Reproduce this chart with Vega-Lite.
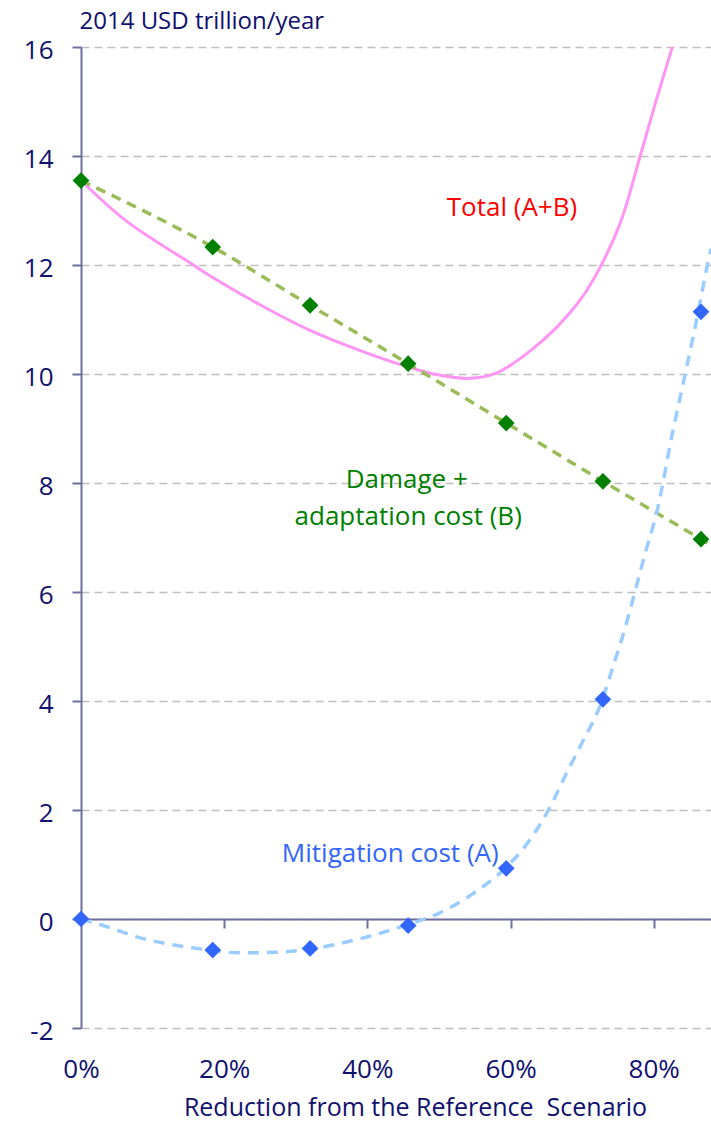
{
  "$schema": "https://vega.github.io/schema/vega-lite/v6.json",
  "width": 630,
  "height": 981,
  "autosize": "none",
  "padding": {"left": 81, "top": 47, "right": 0, "bottom": 95},
  "background": "white",
  "config": {"font": "Open Sans", "view": {"stroke": null}},
  "datasets": {
    "points": [
      {"series": "B", "x": 0, "y": 13.55},
      {"series": "B", "x": 0.184, "y": 12.33},
      {"series": "B", "x": 0.32, "y": 11.26},
      {"series": "B", "x": 0.457, "y": 10.19},
      {"series": "B", "x": 0.594, "y": 9.1},
      {"series": "B", "x": 0.729, "y": 8.03},
      {"series": "B", "x": 0.866, "y": 6.97},
      {"series": "A", "x": 0, "y": 0},
      {"series": "A", "x": 0.184, "y": -0.57},
      {"series": "A", "x": 0.32, "y": -0.54},
      {"series": "A", "x": 0.457, "y": -0.12},
      {"series": "A", "x": 0.594, "y": 0.93},
      {"series": "A", "x": 0.729, "y": 4.03},
      {"series": "A", "x": 0.866, "y": 11.14}
    ],
    "curves": [
      {"series": "Total", "x": 0, "y": 13.55},
      {"series": "Total", "x": 0.064, "y": 12.8},
      {"series": "Total", "x": 0.157, "y": 12.0},
      {"series": "Total", "x": 0.184, "y": 11.77},
      {"series": "Total", "x": 0.25, "y": 11.27},
      {"series": "Total", "x": 0.32, "y": 10.8},
      {"series": "Total", "x": 0.39, "y": 10.43},
      {"series": "Total", "x": 0.457, "y": 10.13},
      {"series": "Total", "x": 0.50, "y": 9.98},
      {"series": "Total", "x": 0.543, "y": 9.92},
      {"series": "Total", "x": 0.581, "y": 10.02},
      {"series": "Total", "x": 0.627, "y": 10.42},
      {"series": "Total", "x": 0.664, "y": 10.85},
      {"series": "Total", "x": 0.699, "y": 11.39},
      {"series": "Total", "x": 0.726, "y": 11.98},
      {"series": "Total", "x": 0.754, "y": 12.8},
      {"series": "Total", "x": 0.78, "y": 13.95},
      {"series": "Total", "x": 0.803, "y": 15.0},
      {"series": "Total", "x": 0.826, "y": 16.0},
      {"series": "B", "x": 0, "y": 13.55},
      {"series": "B", "x": 0.184, "y": 12.33},
      {"series": "B", "x": 0.32, "y": 11.26},
      {"series": "B", "x": 0.457, "y": 10.19},
      {"series": "B", "x": 0.594, "y": 9.1},
      {"series": "B", "x": 0.729, "y": 8.03},
      {"series": "B", "x": 0.866, "y": 6.97},
      {"series": "B", "x": 0.88, "y": 6.86},
      {"series": "A", "x": 0, "y": 0},
      {"series": "A", "x": 0.031, "y": -0.12},
      {"series": "A", "x": 0.087, "y": -0.36},
      {"series": "A", "x": 0.157, "y": -0.53},
      {"series": "A", "x": 0.222, "y": -0.62},
      {"series": "A", "x": 0.273, "y": -0.61},
      {"series": "A", "x": 0.343, "y": -0.5},
      {"series": "A", "x": 0.399, "y": -0.33},
      {"series": "A", "x": 0.457, "y": -0.1},
      {"series": "A", "x": 0.499, "y": 0.1},
      {"series": "A", "x": 0.548, "y": 0.47},
      {"series": "A", "x": 0.594, "y": 0.95},
      {"series": "A", "x": 0.623, "y": 1.38},
      {"series": "A", "x": 0.653, "y": 2.0},
      {"series": "A", "x": 0.678, "y": 2.67},
      {"series": "A", "x": 0.697, "y": 3.16},
      {"series": "A", "x": 0.729, "y": 4.05},
      {"series": "A", "x": 0.743, "y": 4.63},
      {"series": "A", "x": 0.755, "y": 5.12},
      {"series": "A", "x": 0.79, "y": 6.8},
      {"series": "A", "x": 0.804, "y": 7.45},
      {"series": "A", "x": 0.827, "y": 8.97},
      {"series": "A", "x": 0.844, "y": 10.0},
      {"series": "A", "x": 0.858, "y": 10.87},
      {"series": "A", "x": 0.875, "y": 12.0},
      {"series": "A", "x": 0.88, "y": 12.3}
    ],
    "labels": [
      {"series": "Total", "text": "Total (A+B)", "x": 0.602, "y": 12.9},
      {"series": "B", "text": "Damage +", "x": 0.455, "y": 7.9},
      {"series": "B", "text": "adaptation cost (B)", "x": 0.457, "y": 7.23},
      {"series": "A", "text": "Mitigation cost (A)", "x": 0.432, "y": 1.05}
    ]
  },
  "layer": [
    {
      "data": {"name": "curves"},
      "transform": [{"filter": "datum.series === 'Total'"}],
      "mark": {"type": "line", "color": "#ff94f5", "strokeWidth": 3, "interpolate": "catmull-rom", "clip": true},
      "encoding": {
        "x": {
          "field": "x", "type": "quantitative",
          "scale": {"domain": [0, 0.88], "nice": false, "zero": false},
          "axis": {
            "orient": "bottom",
            "values": [0, 0.2, 0.4, 0.6, 0.8],
            "format": ".0%",
            "domain": false, "ticks": false, "tickSize": 0, "grid": false,
            "labelFont": "Open Sans", "labelFontSize": 26, "labelColor": "#10106e", "labelPadding": 28,
            "labelFlush": false, "labelOverlap": false,
            "title": "Reduction from the Reference\u00a0 Scenario",
            "titleFont": "Open Sans", "titleFontSize": 25, "titleFontWeight": "normal", "titleColor": "#10106e",
            "titleX": 334, "titleY": 87, "titleBaseline": "alphabetic", "titleAlign": "center"
          }
        },
        "y": {
          "field": "y", "type": "quantitative",
          "scale": {"domain": [-2, 16], "nice": false, "zero": false},
          "axis": {
            "values": [-2, 0, 2, 4, 6, 8, 10, 12, 14, 16],
            "labelExpr": "'' + datum.value",
            "grid": true, "gridDash": [8, 5], "gridColor": "#bfbfbf", "gridWidth": 1.5,
            "domainColor": "#6e6ea0", "domainWidth": 2,
            "tickColor": "#6e6ea0", "tickWidth": 2, "tickSize": 9,
            "labelFont": "Open Sans", "labelFontSize": 26, "labelColor": "#10106e", "labelPadding": 19,
            "labelOffset": 3,
            "labelFlush": false, "labelOverlap": false,
            "title": "2014 USD trillion/year",
            "titleAngle": 0, "titleAlign": "left", "titleBaseline": "alphabetic",
            "titleX": -2, "titleY": -19,
            "titleFont": "Open Sans", "titleFontSize": 24, "titleFontWeight": "normal", "titleColor": "#10106e"
          }
        }
      }
    },
    {
      "data": {"name": "curves"},
      "transform": [{"filter": "datum.series === 'B'"}],
      "mark": {"type": "line", "color": "#9bbb59", "strokeWidth": 3.5, "strokeDash": [10, 7], "interpolate": "monotone", "clip": true},
      "encoding": {
        "x": {
          "field": "x", "type": "quantitative",
          "axis": {
            "orient": "bottom", "offset": -109,
            "values": [0.2, 0.4, 0.6, 0.8],
            "labels": false, "grid": false, "title": null,
            "domain": true, "domainColor": "#6e6ea0", "domainWidth": 2,
            "ticks": true, "tickColor": "#6e6ea0", "tickWidth": 2, "tickSize": 9
          }
        },
        "y": {"field": "y", "type": "quantitative", "axis": null}
      }
    },
    {
      "data": {"name": "curves"},
      "transform": [{"filter": "datum.series === 'A'"}],
      "mark": {"type": "line", "color": "#9accff", "strokeWidth": 3.5, "strokeDash": [11, 8], "interpolate": "monotone", "clip": true},
      "encoding": {
        "x": {"field": "x", "type": "quantitative", "axis": null},
        "y": {"field": "y", "type": "quantitative", "axis": null}
      }
    },
    {
      "data": {"name": "points"},
      "mark": {"type": "point", "shape": "diamond", "filled": true, "opacity": 1, "size": 280},
      "encoding": {
        "x": {"field": "x", "type": "quantitative", "axis": null},
        "y": {"field": "y", "type": "quantitative", "axis": null},
        "color": {"field": "series", "type": "nominal", "legend": null,
          "scale": {"domain": ["A", "B", "Total"], "range": ["#3366ff", "#008000", "#ff0000"]}}
      }
    },
    {
      "data": {"name": "labels"},
      "mark": {"type": "text", "font": "Open Sans", "fontSize": 26, "align": "center", "baseline": "alphabetic"},
      "encoding": {
        "x": {"field": "x", "type": "quantitative", "axis": null},
        "y": {"field": "y", "type": "quantitative", "axis": null},
        "text": {"field": "text"},
        "color": {"field": "series", "type": "nominal", "legend": null,
          "scale": {"domain": ["A", "B", "Total"], "range": ["#3a6cf4", "#1a7d1a", "#ff0000"]}}
      }
    }
  ],
  "resolve": {"axis": {"x": "independent", "y": "independent"}}
}
